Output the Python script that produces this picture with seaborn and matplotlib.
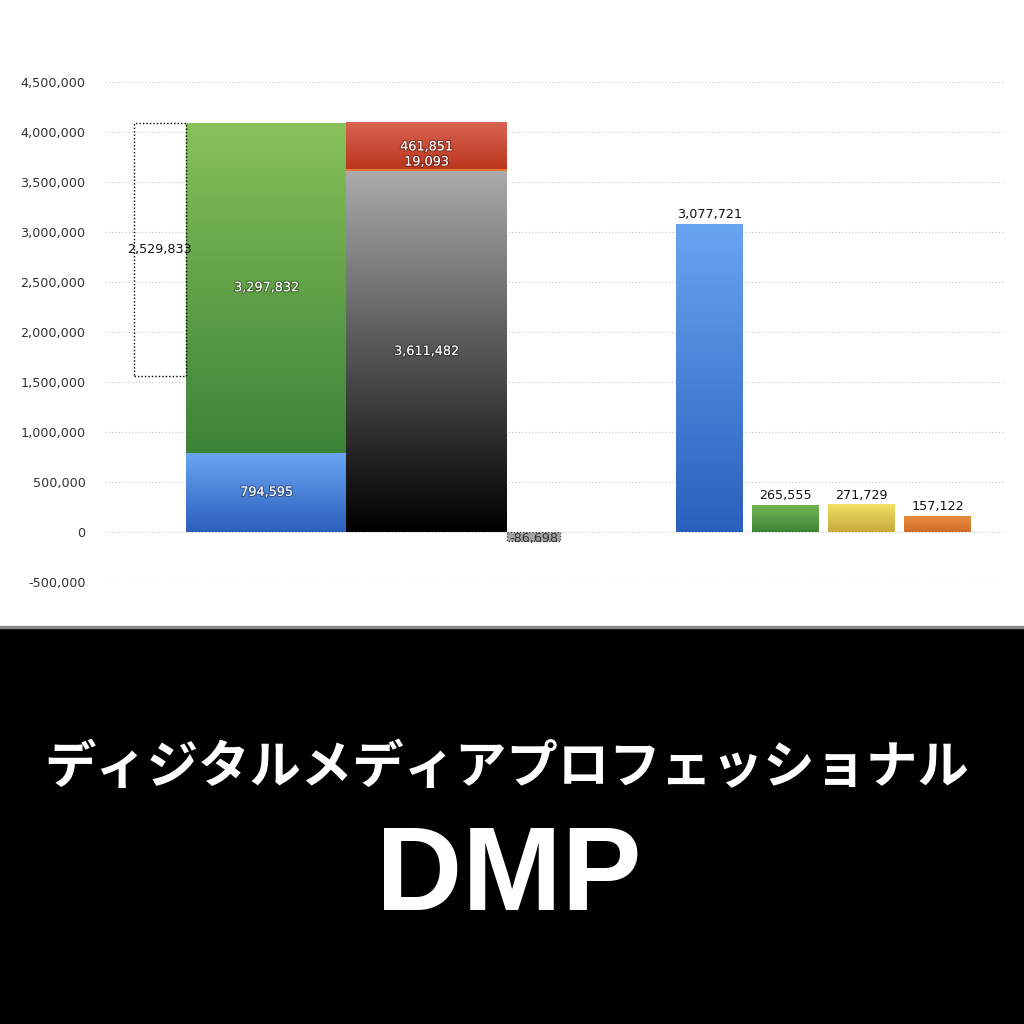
import numpy as np
import pandas as pd
import matplotlib
matplotlib.use("Agg")
import matplotlib.pyplot as plt
import seaborn as sns
from matplotlib.colors import to_rgb
import matplotlib.patheffects as pe
from matplotlib.patches import Rectangle

# ---------------- data ----------------
bridge_value = 2529833                      # dotted "gap" box
stack1_values = [794595, 3297832]           # blue, green
stack2_values = [3611482, 19093, 461851]    # gray/black, orange, red
negative_value = -86698
right_values = [3077721, 265555, 271729, 157122]
yticks = [-500000, 0, 500000, 1000000, 1500000, 2000000, 2500000,
          3000000, 3500000, 4000000, 4500000]
title_jp = "ディジタルメディアプロフェッショナル"
title_en = "DMP"

# ---------------- layout / style ----------------
box_pos, box_w = 55, 52
stack1_pos, stack2_pos, stack_w = 161.5, 321.5, 160.5
neg_pos, neg_w = 428.5, 53
right_pos = [604.5, 680.5, 756.5, 832.5]
right_w = 67

stack1_grad = [("#6aa6f2", "#2c5fbd"), ("#87c15a", "#3b8337")]
stack2_grad = [("#aaabaa", "#000000"), ("#e8803a", "#e07030"), ("#d96353", "#bb361d")]
right_grad = [("#68a5f1", "#2b5fbe"), ("#74b654", "#3d8637"),
              ("#f1df62", "#c8a93c"), ("#e98d3e", "#d06c28")]
num_font = ["DejaVu Sans"]
num_size = 9.2

sns.set_style("white")
plt.rcParams["font.family"] = ["Noto Sans CJK JP", "DejaVu Sans"]

fig = plt.figure(figsize=(10.24, 10.24), dpi=100)
fig.patch.set_facecolor("white")
ax = fig.add_axes([105 / 1024, 1 - 582 / 1024, 900 / 1024, 500 / 1024])


def grad_fill(patch, top, bottom):
    x0, y0 = patch.get_x(), patch.get_y()
    w, h = patch.get_width(), patch.get_height()
    c1, c2 = np.array(to_rgb(top)), np.array(to_rgb(bottom))
    t = np.linspace(0, 1, 256)[:, None]
    img = (c1 * (1 - t) + c2 * t)[:, None, :]
    ax.imshow(img, extent=[x0, x0 + w, min(y0, y0 + h), max(y0, y0 + h)],
              origin="upper", aspect="auto", interpolation="bilinear",
              zorder=patch.get_zorder() + 0.1)
    patch.set_facecolor("none")


shadow = [pe.withStroke(linewidth=1.6, foreground=(0, 0, 0, 0.35))]

# stacked bar 1
bottom = 0
for v, (ct, cb) in zip(stack1_values, stack1_grad):
    b = ax.bar(stack1_pos, v, width=stack_w, bottom=bottom, linewidth=0, zorder=2)[0]
    grad_fill(b, ct, cb)
    ax.text(stack1_pos, bottom + v / 2, f"{v:,}", ha="center", va="center",
            color="white", fontsize=num_size, family=num_font, zorder=5,
            path_effects=shadow)
    bottom += v
total1 = bottom

# dotted bridge box
box_bottom = total1 - bridge_value
ax.bar(box_pos, bridge_value, width=box_w, bottom=box_bottom, fill=False,
       edgecolor="black", linewidth=1.0, linestyle=(0, (1, 1.5)), zorder=3)
ax.text(box_pos, box_bottom + bridge_value / 2, f"{bridge_value:,}", ha="center",
        va="center", color="#111111", fontsize=num_size, family=num_font, zorder=5)

# stacked bar 2
bottom = 0
for i, (v, (ct, cb)) in enumerate(zip(stack2_values, stack2_grad)):
    b = ax.bar(stack2_pos, v, width=stack_w, bottom=bottom, linewidth=0, zorder=2)[0]
    grad_fill(b, ct, cb)
    if i == 0:
        ty = bottom + v / 2
    elif i == 1:
        ty = bottom + v + 70000
    else:
        ty = bottom + v / 2 - 10000
    ax.text(stack2_pos, ty, f"{v:,}", ha="center", va="center",
            color="white", fontsize=num_size, family=num_font, zorder=5,
            path_effects=shadow)
    bottom += v

# negative bar
ax.bar(neg_pos, negative_value, width=neg_w, color="#a4a4a4", edgecolor="#333333",
       linewidth=0.9, linestyle=(0, (1, 1.5)), zorder=3)
ax.text(neg_pos, negative_value / 2 - 25000, f"{negative_value:,}", ha="center",
        va="center", color="#333333", fontsize=num_size, family=num_font, zorder=5)

# right bars via seaborn
df = pd.DataFrame({"pos": right_pos, "value": right_values})
n_before = len(ax.patches)
sns.barplot(data=df, x="pos", y="value", native_scale=True, orient="x",
            width=right_w / 76, color="#4a80d8", linewidth=0, errorbar=None,
            ax=ax, zorder=2)
right_patches = ax.patches[n_before:]
for p, (ct, cb), v in zip(right_patches, right_grad, right_values):
    grad_fill(p, ct, cb)
    ax.text(p.get_x() + p.get_width() / 2, v + 30000, f"{v:,}", ha="center",
            va="bottom", color="#111111", fontsize=num_size, family=num_font, zorder=5)

# axes styling
ax.set_xlim(0, 900)
ax.set_ylim(-500000, 4500000)
ax.set_yticks(yticks)
ax.set_yticklabels([f"{t:,}" for t in yticks], family=num_font)
ax.set_xticks([])
ax.set_xlabel("")
ax.set_ylabel("")
ax.yaxis.grid(True, linestyle=(0, (1, 2)), color="#c4c4c4", linewidth=0.8)
ax.xaxis.grid(False)
ax.set_axisbelow(True)
ax.tick_params(axis="y", length=0, pad=14, labelsize=num_size, labelcolor="#333333")
for s in ax.spines.values():
    s.set_visible(False)
ax.patch.set_alpha(0)

# black banner
fig.patches.append(Rectangle((0, 0), 1, (1024 - 628) / 1024, transform=fig.transFigure,
                             color="black", zorder=-1))
fig.patches.append(Rectangle((0, (1024 - 628) / 1024), 1, 2 / 1024, transform=fig.transFigure,
                             color="#8a8a8a", zorder=-1))
fig.text(507 / 1024, 1 - 767 / 1024, title_jp, ha="center", va="center",
         color="white", fontsize=37, fontweight="bold",
         family=["Noto Sans CJK JP", "DejaVu Sans"])
fig.text(509 / 1024, 1 - 879 / 1024, title_en, ha="center", va="center",
         color="white", fontsize=86, fontweight="bold",
         family=["Liberation Sans", "DejaVu Sans"])

fig.savefig("out.png", dpi=100)
